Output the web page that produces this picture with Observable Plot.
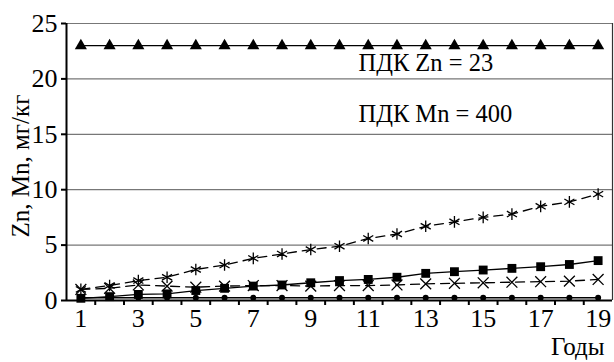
<!DOCTYPE html>
<html>
<head>
<meta charset="utf-8">
<script src="https://cdn.jsdelivr.net/npm/d3@7"></script>
<script src="https://cdn.jsdelivr.net/npm/@observablehq/plot@0.6"></script>
</head>
<body style="margin:0;background:#fff">
<div id="chart"></div>
<script>
// Data
const years = [1,2,3,4,5,6,7,8,9,10,11,12,13,14,15,16,17,18,19];
const pdkZn    = [23,23,23,23,23,23,23,23,23,23,23,23,23,23,23,23,23,23,23];
const asterisk = [1.0,1.35,1.8,2.1,2.8,3.2,3.8,4.2,4.6,4.9,5.6,6.0,6.7,7.1,7.5,7.8,8.5,8.9,9.6];
const squares  = [0.2,0.35,0.55,0.6,0.9,1.1,1.3,1.4,1.6,1.8,1.9,2.1,2.45,2.6,2.75,2.9,3.05,3.25,3.6];
const crosses  = [1.0,1.1,1.4,1.3,1.2,1.3,1.35,1.35,1.3,1.35,1.35,1.4,1.5,1.55,1.6,1.65,1.7,1.75,1.9];
const circles  = [0.25,0.25,0.25,0.25,0.25,0.25,0.25,0.25,0.25,0.25,0.25,0.25,0.25,0.25,0.25,0.25,0.25,0.25,0.25];
const yTicks = [0,5,10,15,20,25];
const xLabels = [1,3,5,7,9,11,13,15,17,19];
const xBetween = [1.5,2.5,3.5,4.5,5.5,6.5,7.5,8.5,9.5,10.5,11.5,12.5,13.5,14.5,15.5,16.5,17.5,18.5];
const annotations = ["ПДК Zn = 23", "ПДК Mn = 400"];
const yLabel = "Zn, Mn, мг/кг";
const xLabel = "Годы";

const mk = (vals) => years.map((x, i) => ({x, y: vals[i]}));
const dTri = mk(pdkZn), dAst = mk(asterisk), dSq = mk(squares), dX = mk(crosses), dCi = mk(circles);

const F = "Liberation Serif";

const chart = Plot.plot({
  width: 614,
  height: 362,
  marginLeft: 66,
  marginRight: 2,
  marginTop: 23,
  marginBottom: 62,
  style: {fontFamily: F, fontSize: "26px", color: "#000", background: "#fff"},
  x: {domain: [0.5, 19.5], axis: null},
  y: {domain: [0, 25], axis: null},
  marks: [
    Plot.gridY(yTicks.filter(d => d > 0), {stroke: "#777", strokeOpacity: 1, strokeWidth: 1.2}),
    Plot.ruleX([19.5], {stroke: "#333", strokeWidth: 1.2}),
    // series lines
    Plot.line(dCi, {x: "x", y: "y", stroke: "#000", strokeWidth: 1.3}),
    Plot.line(dX, {x: "x", y: "y", stroke: "#000", strokeWidth: 1.3, strokeDasharray: "9,6"}),
    Plot.line(dSq, {x: "x", y: "y", stroke: "#000", strokeWidth: 1.3}),
    Plot.line(dAst, {x: "x", y: "y", stroke: "#000", strokeWidth: 1.3, strokeDasharray: "9,6"}),
    Plot.line(dTri, {x: "x", y: "y", stroke: "#000", strokeWidth: 1.3}),
    // markers
    Plot.dot(dCi, {x: "x", y: "y", symbol: "circle", fill: "#000", r: 3}),
    Plot.dot(dX, {x: "x", y: "y", symbol: "times", stroke: "#000", strokeWidth: 1.3, r: 5}),
    Plot.dot(dSq, {x: "x", y: "y", symbol: "square", fill: "#000", r: 5}),
    Plot.dot(dAst, {x: "x", y: "y", symbol: "asterisk", stroke: "#000", strokeWidth: 1.3, r: 5.5}),
    Plot.dot(dTri, {x: "x", y: "y", symbol: "triangle", fill: "#000", r: 4.5}),
    // axes
    Plot.ruleX([0.5], {stroke: "#000", strokeWidth: 2}),
    Plot.ruleY([0], {stroke: "#000", strokeWidth: 2}),
    Plot.axisY({ticks: yTicks, tickSize: 5, tickPadding: 4, fontSize: 26, fontFamily: F, strokeWidth: 2, label: null}),
    Plot.axisX({ticks: xBetween, tickSize: 5, strokeWidth: 2, tickFormat: () => "", label: null}),
    Plot.axisX({ticks: xLabels, tickSize: 0, tickPadding: 8, fontSize: 26, fontFamily: F, label: null}),
    // annotations
    Plot.text([annotations[0]], {frameAnchor: "top-left", dx: 292, dy: 30, textAnchor: "start", fontSize: 24.5, fontFamily: F, fill: "#000"}),
    Plot.text([annotations[1]], {frameAnchor: "top-left", dx: 292, dy: 81, textAnchor: "start", fontSize: 24.5, fontFamily: F, fill: "#000"}),
    Plot.text([yLabel], {frameAnchor: "left", textAnchor: "middle", rotate: -90, dx: -46, dy: 4, fontSize: 25, fontFamily: F, fill: "#000"}),
    Plot.text([xLabel], {frameAnchor: "bottom-right", dx: -8, dy: 54, textAnchor: "end", fontSize: 25, fontFamily: F, fill: "#000"})
  ]
});
document.getElementById("chart").appendChild(chart);
</script>
</body>
</html>
